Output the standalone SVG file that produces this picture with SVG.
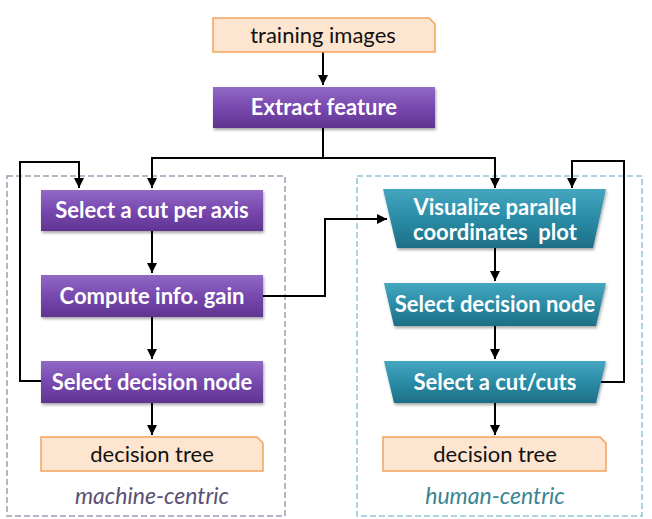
<svg xmlns="http://www.w3.org/2000/svg" width="652" height="519" viewBox="0 0 652 519">
<defs>
<linearGradient id="gp" x1="0" y1="0" x2="0" y2="1">
<stop offset="0" stop-color="#9169c6"/>
<stop offset="0.5" stop-color="#7848ae"/>
<stop offset="1" stop-color="#5f3491"/>
</linearGradient>
<linearGradient id="gt" x1="0" y1="0" x2="0" y2="1">
<stop offset="0" stop-color="#45a6bf"/>
<stop offset="0.5" stop-color="#2b8ca6"/>
<stop offset="1" stop-color="#1d6f86"/>
</linearGradient>
<filter id="sh" x="-10%" y="-20%" width="120%" height="150%">
<feDropShadow dx="1" dy="2" stdDeviation="1.5" flood-color="#000" flood-opacity="0.35"/>
</filter>
<marker id="ar" viewBox="0 0 10 10" refX="10" refY="5" markerWidth="10" markerHeight="10" markerUnits="userSpaceOnUse" orient="auto">
<path d="M0,0 L10,5 L0,10 z" fill="#000"/>
</marker>
</defs>
<style>
.conn path{fill:none;stroke:#000;stroke-width:2;}
.pur{fill:url(#gp);filter:url(#sh);}
.teal{fill:url(#gt);filter:url(#sh);}
.io{fill:#fde5d0;stroke:#f2a35c;stroke-width:1.5;}
.wt{font-family:Lato,"Liberation Sans",sans-serif;font-weight:bold;font-size:22px;fill:#fff;text-anchor:middle;}
.bt{font-family:Lato,"Liberation Sans",sans-serif;font-size:22px;fill:#111;text-anchor:middle;}
.grp{fill:none;stroke-width:1.5;stroke-dasharray:6 3;}
.lbl{font-family:Lato,"Liberation Sans",sans-serif;font-style:italic;font-size:23px;text-anchor:middle;}
</style>
<rect width="652" height="519" fill="#fff"/>

<g id="machine-group">
<rect x="7" y="176" width="278" height="340" class="grp" stroke="#a79bb6"/>
<text x="152" y="504" class="lbl" fill="#5b5072">machine-centric</text>
</g>
<g id="human-group">
<rect x="357" y="176" width="285" height="340" class="grp" stroke="#94c4d2"/>
<text x="495" y="504" class="lbl" fill="#3a8591">human-centric</text>
</g>

<g class="conn">
<path d="M323,52 V85" marker-end="url(#ar)"/>
<path d="M323,128 V158 H152 V188" marker-end="url(#ar)"/>
<path d="M323,158 H495 V188" marker-end="url(#ar)"/>
<path d="M152,231 V273" marker-end="url(#ar)"/>
<path d="M152,317 V359" marker-end="url(#ar)"/>
<path d="M152,403 V435" marker-end="url(#ar)"/>
<path d="M41,381 H20 V162 H79 V188" marker-end="url(#ar)"/>
<path d="M263,296 H325 V219 H387" marker-end="url(#ar)"/>
<path d="M495,248 V281" marker-end="url(#ar)"/>
<path d="M495,326 V359" marker-end="url(#ar)"/>
<path d="M495,403 V435" marker-end="url(#ar)"/>
<path d="M600,382 H624 V161 H572 V188" marker-end="url(#ar)"/>
</g>

<g id="training-images">
<path d="M213,18 H429 L435,24 V52 H213 Z" class="io"/>
<text x="323" y="43" class="bt">training images</text>
</g>
<g id="extract-feature">
<rect x="213" y="87" width="222" height="41" class="pur"/>
<text x="324" y="115" class="wt">Extract feature</text>
</g>
<g id="select-cut-axis">
<rect x="41" y="190" width="222" height="41" class="pur"/>
<text x="152" y="218" class="wt">Select a cut per axis</text>
</g>
<g id="compute-gain">
<rect x="41" y="275" width="222" height="42" class="pur"/>
<text x="152" y="304" class="wt">Compute info. gain</text>
</g>
<g id="select-node-left">
<rect x="41" y="361" width="222" height="42" class="pur"/>
<text x="152" y="390" class="wt">Select decision node</text>
</g>
<g id="tree-left">
<path d="M41,437 H257 L263,443 V471 H41 Z" class="io"/>
<text x="152" y="462" class="bt">decision tree</text>
</g>

<g id="visualize-pcp">
<path d="M383,189 H606 L593,248 H397 Z" class="teal"/>
<text x="495" y="215" class="wt">Visualize parallel</text>
<text x="495" y="240" class="wt" xml:space="preserve">coordinates  plot</text>
</g>
<g id="select-node-right">
<path d="M384,283 H606 L596,326 H394 Z" class="teal"/>
<text x="495" y="312" class="wt">Select decision node</text>
</g>
<g id="select-cuts">
<path d="M384,361 H606 L596,403 H394 Z" class="teal"/>
<text x="495" y="390" class="wt">Select a cut/cuts</text>
</g>
<g id="tree-right">
<path d="M383,437 H600 L606,443 V471 H383 Z" class="io"/>
<text x="495" y="462" class="bt">decision tree</text>
</g>
</svg>
